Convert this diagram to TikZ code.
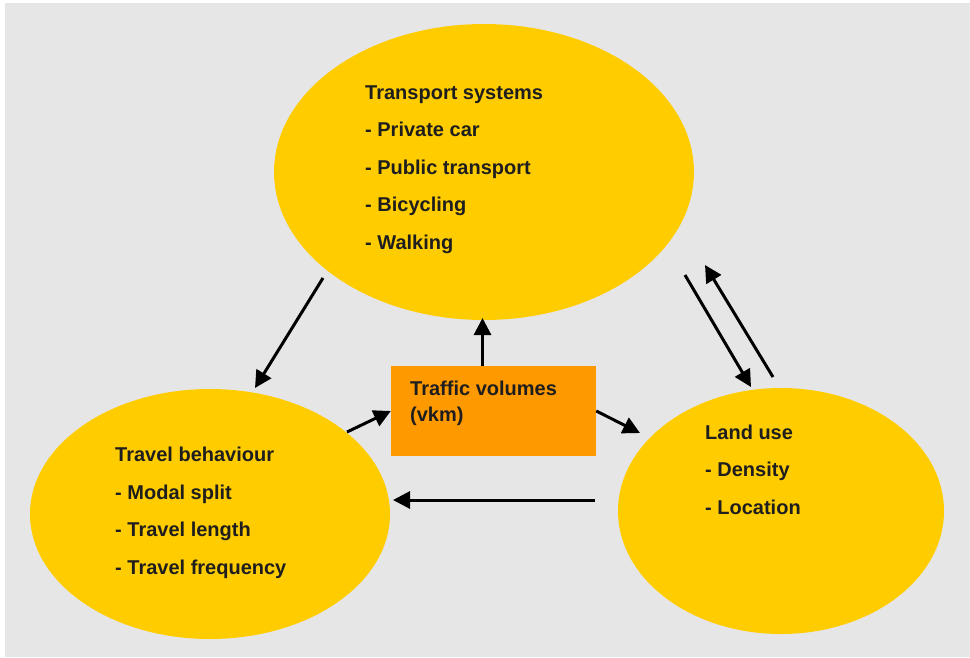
\documentclass[tikz,border=0pt]{standalone}
\usepackage{fontspec}
\setmainfont{Liberation Sans}
\usetikzlibrary{positioning,arrows.meta,shapes.geometric}
\definecolor{bggray}{RGB}{230,230,230}
\definecolor{sunyellow}{RGB}{255,204,0}
\definecolor{boxorange}{RGB}{255,153,0}
\definecolor{inkgray}{RGB}{30,30,30}

\begin{document}
\begin{tikzpicture}[
      x=1pt, y=-1pt,
      font=\fontsize{20}{37.5}\selectfont\bfseries,
      blob/.style={
        ellipse, fill=sunyellow, draw=none, inner sep=0pt
      },
      txt/.style={
        text=inkgray, align=left, anchor=base west, inner sep=0pt
      },
      arr/.style={-{Triangle[length=17pt,width=17pt]}, line width=3pt, black}
    ]
      \useasboundingbox (0,0) rectangle (970,657);
      \fill[white] (0,0) rectangle (970,657);
      \fill[bggray] (5,3) rectangle (970,657);

      % the three fields
      \node[blob, minimum width=420pt, minimum height=296pt] (ts) at (484,172) {};
      \node[blob, minimum width=360pt, minimum height=250pt] (tb) at (210,514) {};
      \node[blob, minimum width=326pt, minimum height=246pt] (lu) at (781,511) {};
      \node[fill=boxorange, minimum width=205pt, minimum height=90pt, inner sep=0pt]
        (tv) at (493.5,411) {};

      % texts, anchored at the baseline of their last line
      \node[txt] (tstext) at (365,249)
        {Transport systems\\- Private car\\- Public transport\\- Bicycling\\- Walking};
      \node[txt] (tbtext) at (115,574)
        {Travel behaviour\\- Modal split\\- Travel length\\- Travel frequency};
      \node[txt] (lutext) at (705,514)
        {Land use\\- Density\\- Location};
      \node[txt, font=\fontsize{20}{26}\selectfont\bfseries] (tvtext) at (410,421)
        {Traffic volumes\\(vkm)};

      % connectors
      \coordinate (tsout) at (323,278);
      \coordinate (tbin) at (255,388);
      \coordinate (tbout) at (347,432);
      \coordinate (luin) at (640,433);
      \coordinate (luleft) at (595,500);
      \coordinate (tbright) at (393,500);
      \coordinate (tsdown) at (685,275);
      \coordinate (lutop) at (751,387);
      \coordinate (luup) at (773,377);
      \coordinate (tsback) at (705,265);
      \coordinate (tsbottom) at (482.5,318);

      \draw[arr] (tsout) -- (tbin);
      \draw[arr] (tbout) -- (tv.west);
      \draw[arr] ([xshift=-11pt]tv.north) -- (tsbottom);
      \draw[arr] (tv.east) -- (luin);
      \draw[arr] (luleft) -- (tbright);
      \draw[arr] (tsdown) -- (lutop);
      \draw[arr] (luup) -- (tsback);
    \end{tikzpicture}
\end{document}
